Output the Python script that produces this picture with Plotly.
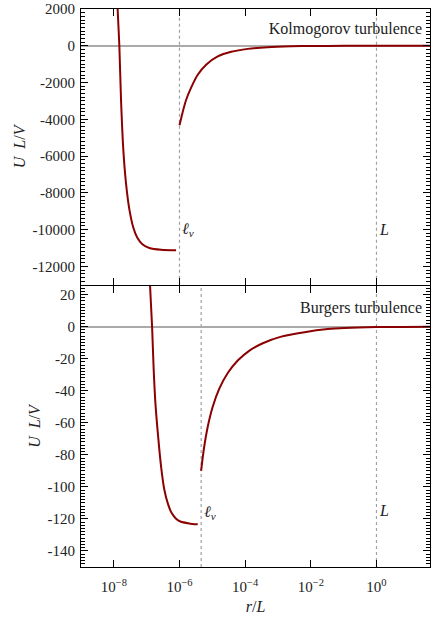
import plotly.graph_objects as go

# ---------------- data ----------------
# Kolmogorov panel: exponents of r/L and U L/V values
kol_left_logr = [-7.909, -7.884, -7.832, -7.780, -7.710, -7.628, -7.527, -7.405, -7.284, -7.131, -6.918, -6.561, -6.104]
kol_left_u = [3500, 1990, 0, -2980, -5690, -7500, -8900, -9900, -10450, -10800, -11000, -11100, -11130]
kol_right_logr = [-6.0, -5.902, -5.799, -5.646, -5.445, -5.189, -4.835, -4.427, -3.921, -3.311, -2.598, -1.988, -1.0, 0.0, 1.63]
kol_right_u = [-4330, -3600, -2950, -2280, -1580, -1030, -580, -330, -170, -80, -32, -12, -4, -1, -0.2]

# Burgers panel
bur_left_logr = [-6.912, -6.896, -6.835, -6.787, -6.735, -6.649, -6.558, -6.466, -6.354, -6.247, -6.104, -5.973, -5.707, -5.445]
bur_left_u = [40, 25.3, 0, -26.5, -47.3, -69, -87.8, -101.3, -110.5, -116, -119.9, -121.6, -122.8, -123.4]
bur_right_logr = [-5.341, -5.262, -5.140, -4.988, -4.784, -4.530, -4.226, -3.869, -3.463, -2.902, -2.192, -1.482, -0.973, 0.0, 1.63]
bur_right_u = [-90, -77, -62.5, -50, -38.6, -29, -21.2, -15, -10.4, -6.3, -3.5, -1.6, -0.9, -0.3, -0.05]

# reference scales (exponents of r/L)
kol_lnu_logr = -6.0
bur_lnu_logr = -5.34
L_logr = 0.0

# ticks
x_tickvals = [1e-8, 1e-6, 1e-4, 1e-2, 1]
x_ticktext = ["10<sup>−8</sup>", "10<sup>−6</sup>", "10<sup>−4</sup>", "10<sup>−2</sup>", "10<sup>0</sup>"]
kol_tickvals = [2000, 0, -2000, -4000, -6000, -8000, -10000, -12000]
kol_ticktext = ["2000", "0", "-2000", "-4000", "-6000", "-8000", "-10000", "-12000"]
bur_tickvals = [20, 0, -20, -40, -60, -80, -100, -120, -140]
bur_ticktext = ["20", "0", "-20", "-40", "-60", "-80", "-100", "-120", "-140"]
kol_major_step, kol_minor_step = 2000, 200
bur_major_step, bur_minor_step = 20, 2

panel_labels = ["Kolmogorov turbulence", "Burgers turbulence"]

# ---------------- figure ----------------
W, H = 431, 623
ml, mr, mt, mb = 81, 1, 9, 56
plot_h = H - mt - mb
LW = 1.3
split = 281 / plot_h
split_top = split + LW / plot_h
kol_range = [-13000, 2000]
bur_range = [-150, 25.3]
x_range = [-9, 1.63]

FONT = "Liberation Serif"
CURVE = "#8b0000"
TXT = "#222222"

fig = go.Figure()

def pw(v):
    return [10 ** e for e in v]

for xs, ys, xa, ya in [
    (kol_left_logr, kol_left_u, "x", "y"),
    (kol_right_logr, kol_right_u, "x", "y"),
    (bur_left_logr, bur_left_u, "x2", "y2"),
    (bur_right_logr, bur_right_u, "x2", "y2"),
]:
    fig.add_trace(go.Scatter(
        x=pw(xs), y=ys, mode="lines", xaxis=xa, yaxis=ya,
        line=dict(color=CURVE, width=2, shape="spline", smoothing=0.8),
        showlegend=False, hoverinfo="skip",
    ))

# invisible traces to attach the label overlay axes
fig.add_trace(go.Scatter(x=[1e-3], y=[0], xaxis="x", yaxis="y3", mode="markers",
                         marker=dict(opacity=0), showlegend=False, hoverinfo="skip"))
fig.add_trace(go.Scatter(x=[1e-3], y=[0], xaxis="x2", yaxis="y4", mode="markers",
                         marker=dict(opacity=0), showlegend=False, hoverinfo="skip"))

axis_common = dict(
    showline=True, linecolor="black", linewidth=LW, mirror="ticks",
    ticks="inside", ticklen=7, tickwidth=1.2, tickcolor="black",
    showgrid=False, automargin=False,
    tickfont=dict(family=FONT, size=15, color=TXT),
)
label_common = dict(
    showline=False, ticks="", showgrid=False, zeroline=False, automargin=False,
    tickmode="array", side="left", ticklabelstandoff=5,
    tickfont=dict(family=FONT, size=15, color=TXT),
)
minor_style = dict(ticks="inside", ticklen=4, tickwidth=1, tickcolor="black", showgrid=False)
ytitle = dict(text="<i>U</i>  <i>L</i>/<i>V</i>", font=dict(family=FONT, size=16, color=TXT), standoff=2)

fig.update_layout(
    width=W, height=H,
    margin=dict(l=ml, r=mr, t=mt, b=mb),
    paper_bgcolor="white", plot_bgcolor="white",
    xaxis=dict(type="log", range=x_range, domain=[0, 1], anchor="y",
               tickmode="array", tickvals=x_tickvals, ticktext=x_ticktext, showticklabels=False,
               zeroline=False, **axis_common),
    xaxis2=dict(type="log", range=x_range, domain=[0, 1], anchor="y2", matches="x",
                tickmode="array", tickvals=x_tickvals, ticktext=x_ticktext, showticklabels=True,
                zeroline=False, ticklabelstandoff=6,
                title=dict(text="<i>r</i>/<i>L</i>", font=dict(family=FONT, size=16, color=TXT), standoff=6),
                **axis_common),
    yaxis=dict(domain=[split_top, 1], range=kol_range, anchor="x",
               tickmode="linear", tick0=0, dtick=kol_major_step, showticklabels=False,
               minor=dict(dtick=kol_minor_step, tick0=0, **minor_style),
               zeroline=True, zerolinecolor="#aaaaaa", zerolinewidth=1.5, **axis_common),
    yaxis2=dict(domain=[0, split], range=bur_range, anchor="x2",
                tickmode="linear", tick0=0, dtick=bur_major_step, showticklabels=False,
                minor=dict(dtick=bur_minor_step, tick0=0, **minor_style),
                zeroline=True, zerolinecolor="#aaaaaa", zerolinewidth=1.5, **axis_common),
    yaxis3=dict(overlaying="y", anchor="x", range=kol_range,
                tickvals=kol_tickvals, ticktext=kol_ticktext, title=ytitle, **label_common),
    yaxis4=dict(overlaying="y2", anchor="x2", range=bur_range,
                tickvals=bur_tickvals, ticktext=bur_ticktext, title=ytitle, **label_common),
)

shapes = []
for xe, xr, yr in [(kol_lnu_logr, "x", "y domain"), (L_logr, "x", "y domain"),
                   (bur_lnu_logr, "x2", "y2 domain"), (L_logr, "x2", "y2 domain")]:
    shapes.append(dict(type="line", xref=xr, yref=yr, x0=10 ** xe, x1=10 ** xe, y0=0, y1=1,
                       line=dict(color="#a0a0a0", width=1.2, dash="dot"), layer="below"))
fig.update_layout(shapes=shapes)

ann = []
ann.append(dict(text=panel_labels[0], xref="paper", yref="y domain", x=0.982, y=0.926,
                xanchor="right", yanchor="middle", showarrow=False, width=220, align="right",
                font=dict(family=FONT, size=16, color=TXT)))
ann.append(dict(text=panel_labels[1], xref="paper", yref="y2 domain", x=0.982, y=0.922,
                xanchor="right", yanchor="middle", showarrow=False, width=220, align="right",
                font=dict(family=FONT, size=16, color=TXT)))
for xe, xr, yr, yv in [(kol_lnu_logr, "x", "y", -10000), (L_logr, "x", "y", -10000),
                       (bur_lnu_logr, "x2", "y2", -116), (L_logr, "x2", "y2", -115)]:
    txt = "<i>ℓ</i><sub><i>ν</i></sub>" if xe != L_logr else "<i>L</i>"
    ann.append(dict(text=txt, xref=xr, yref=yr, x=xe, y=yv, xanchor="left", yanchor="middle",
                    xshift=1, showarrow=False, font=dict(family=FONT, size=16, color=TXT)))
fig.update_layout(annotations=ann)

fig.write_html("out.html", config={"displayModeBar": False},
               post_script="document.body.style.margin='0';document.body.style.overflow='hidden';")
